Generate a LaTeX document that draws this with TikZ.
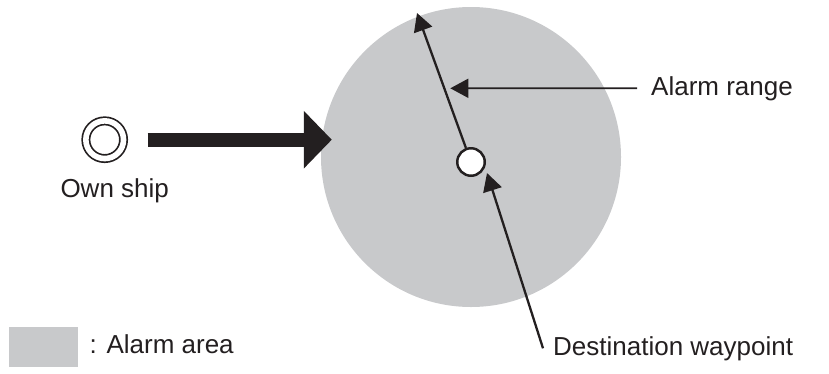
\documentclass[tikz,border=0pt]{standalone}
\usepackage{fontspec}
\setmainfont{Liberation Sans}
\usetikzlibrary{arrows.meta,positioning}
\definecolor{ink}{HTML}{231F20}
\definecolor{areagray}{RGB}{200,201,203}
\begin{document}
\begin{tikzpicture}[x=1pt, y=-1pt,
    lbl/.style={font=\fontsize{26}{31}\selectfont, text=ink, inner sep=0pt},
    pointer/.style={-{Triangle[length=18pt,width=19pt]}, ink, line width=2.3pt}]
    \useasboundingbox (0,0) rectangle (829,373);

    % alarm area
    \node[circle, fill=areagray, minimum size=300pt, inner sep=0pt] (zone) at (471,157) {};

    % own ship
    \node[circle, draw=ink, line width=1.7pt, double, double distance=5.6pt,
          minimum size=37.7pt, inner sep=0pt, outer sep=0pt] (ship) at (104.7,139.7) {};
    \node[lbl, below=20pt of ship, xshift=10pt] (shiplbl) {Own ship};

    % heading
    \coordinate (aim) at (zone.west |- ship.east);
    \draw[ink, line width=14pt, -{Triangle[length=28pt,width=56pt]}]
        ([xshift=24pt]ship.east) -- ([xshift=11pt]aim);

    % waypoint
    \node[circle, draw=ink, fill=white, line width=2.5pt, minimum size=27.5pt,
          inner sep=0pt] (wp) at (471,162) {};

    % alarm range
    \coordinate (rangetip) at (417,13);
    \draw[pointer] (wp) -- (rangetip);
    \node[lbl, anchor=base west] (rangelbl) at (651,95) {Alarm range};
    \coordinate (hit) at (intersection of wp--rangetip and rangelbl.west--rangelbl.east);
    \draw[pointer, line width=1.7pt] ([xshift=-14pt]rangelbl.west) -- ([xshift=6pt]hit);

    % destination
    \node[lbl, anchor=base west] (destlbl) at (553,355) {Destination waypoint};
    \coordinate (desttip) at ([shift={(16,11)}]wp.center);
    \draw[pointer] ([xshift=-10pt]destlbl.west) -- (desttip);

    % legend
    \node[fill=areagray, minimum width=69pt, minimum height=40pt, inner sep=0pt] (key) at (43.5,347) {};
    \node[lbl, anchor=base west] (keylbl) at (89.5,353) {: Alarm area};
\end{tikzpicture}
\end{document}
